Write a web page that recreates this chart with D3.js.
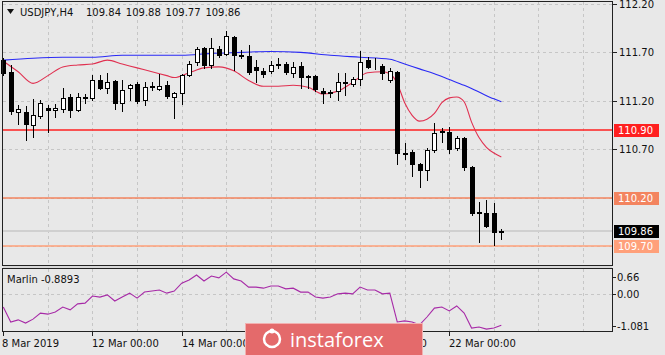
<!DOCTYPE html>
<html>
<head>
<meta charset="utf-8">
<script src="https://cdn.jsdelivr.net/npm/d3@7"></script>
<style>
  body { margin: 0; background: #e8e8e8; }
  svg { display: block; }
  text { font-family: 'DejaVu Sans', sans-serif; font-size: 10px; fill: #111; }
</style>
</head>
<body>
<svg id="chart" width="665" height="355"></svg>
<script>

// H4 candles, USDJPY, 8 Mar - 22 Mar 2019
const opens  = [111.62,111.50,111.08,111.08,110.95,111.04,111.13,111.10,111.12,111.24,111.11,111.23,111.23,111.41,111.33,111.40,111.18,111.33,111.37,111.21,
                111.34,111.32,111.36,111.24,111.28,111.47,111.60,111.75,111.57,111.73,111.68,111.86,111.66,111.66,111.55,111.51,111.51,111.57,111.58,111.49,
                111.56,111.46,111.46,111.30,111.28,111.30,111.38,111.37,111.43,111.62,111.54,111.56,111.42,111.50,110.66,110.67,110.55,110.48,110.69,110.88,
                110.88,110.71,110.82,110.52,110.05,110.04,110.04,109.84];
const highs  = [111.64,111.57,111.16,111.15,111.22,111.21,111.16,111.17,111.33,111.27,111.28,111.27,111.47,111.47,111.49,111.41,111.41,111.37,111.39,111.39,
                111.39,111.48,111.40,111.29,111.48,111.61,111.76,111.76,111.85,111.77,111.92,111.87,111.72,111.78,111.62,111.54,111.61,111.64,111.60,111.60,
                111.60,111.47,111.47,111.33,111.31,111.49,111.49,111.45,111.71,111.65,111.64,111.58,111.54,111.51,110.76,110.69,110.56,110.71,110.97,110.92,
                110.93,110.84,110.83,110.53,110.15,110.18,110.14,109.88];
const lows   = [111.47,111.06,110.96,110.79,110.83,111.02,110.88,111.03,111.08,111.03,111.09,111.18,111.21,111.32,111.28,111.12,111.09,111.21,111.18,111.16,
                111.31,111.31,111.23,111.02,111.17,111.46,111.57,111.54,111.54,111.65,111.67,111.52,111.64,111.48,111.39,111.45,111.49,111.54,111.48,111.45,
                111.33,111.33,111.30,111.18,111.24,111.21,111.26,111.35,111.36,111.54,111.53,111.43,111.39,110.55,110.60,110.42,110.31,110.38,110.67,110.77,
                110.66,110.69,110.48,110.02,109.74,109.90,109.71,109.77];
const closes = [111.49,111.09,111.12,110.96,111.05,111.18,111.10,111.13,111.23,111.10,111.24,111.24,111.42,111.33,111.39,111.18,111.31,111.36,111.20,111.34,
                111.35,111.35,111.25,111.28,111.47,111.58,111.74,111.57,111.75,111.67,111.87,111.67,111.67,111.50,111.52,111.48,111.57,111.58,111.50,111.55,
                111.45,111.45,111.32,111.28,111.29,111.39,111.39,111.43,111.60,111.55,111.54,111.49,111.51,110.66,110.65,110.55,110.49,110.69,110.87,110.89,
                110.70,110.82,110.52,110.04,110.04,109.91,109.84,109.86];

// slow moving average (blue)
const slowIdx = [0,4,8,12,16,20,24,28,32,36,40,44,48,52,54,56,58,60,62,64,66,67];
const slowMa  = [111.62,111.64,111.65,111.65,111.67,111.67,111.67,111.69,111.70,111.71,111.70,111.67,111.65,111.63,111.58,111.53,111.48,111.42,111.36,111.29,111.22,111.19];

// fast moving average (red)
const fastIdx = [0,2,4,6,8,10,12,14,16,18,20,22,23,25,27,29,31,33,35,37,39,41,43,45,47,49,51,52,53,54,55,56,57,58,59,60,61,62,63,64,65,66,67];
const fastMa  = [111.61,111.50,111.38,111.46,111.55,111.57,111.58,111.62,111.58,111.54,111.50,111.46,111.44,111.49,111.54,111.55,111.51,111.41,111.35,111.35,
                 111.36,111.34,111.27,111.30,111.39,111.49,111.50,111.48,111.38,111.18,111.05,110.99,111.01,111.07,111.18,111.23,111.24,111.19,110.98,110.82,
                 110.72,110.66,110.62];

// Marlin oscillator, one value per candle
const marlin = [-0.38,-0.80,-0.74,-0.83,-0.72,-0.55,-0.58,-0.52,-0.38,-0.46,-0.29,-0.27,-0.07,-0.10,-0.04,-0.21,-0.10,0.01,-0.13,0.04,
                0.07,0.10,0.01,0.07,0.29,0.38,0.52,0.35,0.49,0.44,0.60,0.41,0.35,0.18,0.18,0.15,0.21,0.21,0.13,0.15,
                0.04,0.04,-0.10,-0.13,-0.10,-0.01,0.01,-0.01,0.18,0.10,0.10,-0.01,0.01,-0.80,-0.77,-0.80,-0.88,-0.66,-0.41,-0.38,
                -0.49,-0.35,-0.55,-0.97,-0.94,-1.00,-0.97,-0.89];

const priceTicks = [112.20, 111.70, 111.20, 110.70];
const gridPrices = [112.20, 111.70, 111.20, 110.70, 110.20, 109.70];
const levels     = [110.90, 110.20, 109.70];
const levelNames = ['110.90', '110.20', '109.70'];
const lastPrice  = 109.86;

const marlinTicks  = [0.66, 0.00, -1.081];
const marlinLabels = ['0.66', '0.00', '-1.081'];

const dateIdx    = [0, 12, 24, 36, 48, 60];
const dateLabels = ['8 Mar 2019', '12 Mar 00:00', '14 Mar 00:00', '18 Mar 00:00', '20 Mar 00:00', '22 Mar 00:00'];

const levelColors = ['#ff2020', '#f3845f', '#ffa07a'];

const svg = d3.select('#chart');
const left = 3, right = 612;
const mainTop = 2, mainBottom = 266;
const indTop = 269, indBottom = 332;

const x = d3.scaleLinear().domain([0, 82]).range([3.3, 3.3 + 82 * 7.433]);
const y = d3.scaleLinear().domain([109.70, 112.20]).range([246, 4]);
const ym = d3.scaleLinear().domain([-1.081, 0.66]).range([indBottom, indTop + 1]);

function px(v) { return Math.round(v) + 0.5; }

svg.append('rect').attr('width', 665).attr('height', 355).attr('fill', '#e8e8e8');

// grid
const grid = svg.append('g');
d3.range(6, 82, 6).forEach(function(i) {
    grid.append('line')
        .attr('x1', px(x(i))).attr('x2', px(x(i)))
        .attr('y1', mainTop).attr('y2', mainBottom)
        .attr('stroke', '#c6c6c6').attr('stroke-dasharray', '3,3');
    grid.append('line')
        .attr('x1', px(x(i))).attr('x2', px(x(i)))
        .attr('y1', indTop).attr('y2', indBottom)
        .attr('stroke', '#c6c6c6').attr('stroke-dasharray', '3,3');
});
gridPrices.forEach(function(p) {
    grid.append('line')
        .attr('x1', left).attr('x2', right)
        .attr('y1', px(y(p))).attr('y2', px(y(p)))
        .attr('stroke', '#c6c6c6').attr('stroke-dasharray', '3,3');
});
grid.append('line')
    .attr('x1', left).attr('x2', right)
    .attr('y1', px(ym(0))).attr('y2', px(ym(0)))
    .attr('stroke', '#c6c6c6').attr('stroke-dasharray', '3,3');

// last price line + horizontal levels
svg.append('line')
    .attr('x1', left).attr('x2', right)
    .attr('y1', Math.round(y(lastPrice))).attr('y2', Math.round(y(lastPrice)))
    .attr('stroke', '#d0d0d0').attr('stroke-width', 2);

levels.forEach(function(p, k) {
    svg.append('line')
        .attr('x1', left).attr('x2', right)
        .attr('y1', Math.round(y(p))).attr('y2', Math.round(y(p)))
        .attr('stroke', levelColors[k]).attr('stroke-width', 1.6);
});

// moving averages
const maLine = d3.line().curve(d3.curveMonotoneX);
svg.append('path')
    .attr('d', maLine(slowIdx.map(function(i, k) { return [x(i), y(slowMa[k])]; })))
    .attr('fill', 'none').attr('stroke', '#2a2af5').attr('stroke-width', 1.1);
svg.append('path')
    .attr('d', maLine(fastIdx.map(function(i, k) { return [x(i), y(fastMa[k])]; })))
    .attr('fill', 'none').attr('stroke', '#e03050').attr('stroke-width', 1.1);

// candles
const candles = svg.append('g');
opens.forEach(function(o, i) {
    var c = closes[i];
    var cx = Math.round(x(i));
    candles.append('line')
        .attr('x1', cx + 0.5).attr('x2', cx + 0.5)
        .attr('y1', Math.round(y(highs[i]))).attr('y2', Math.round(y(lows[i])) + 1)
        .attr('stroke', '#000');
    var top = Math.round(y(Math.max(o, c)));
    var bot = Math.round(y(Math.min(o, c)));
    candles.append('rect')
        .attr('x', cx - 1.5).attr('width', 4)
        .attr('y', top + 0.5).attr('height', Math.max(0, bot - top))
        .attr('fill', c >= o ? '#fff' : '#000')
        .attr('stroke', '#000');
});

// panel frames
svg.append('rect')
    .attr('x', left - 0.5).attr('y', mainTop - 0.5)
    .attr('width', right - left + 1).attr('height', mainBottom - mainTop)
    .attr('fill', 'none').attr('stroke', '#222');
svg.append('rect')
    .attr('x', left - 0.5).attr('y', indTop - 0.5)
    .attr('width', right - left + 1).attr('height', indBottom - indTop)
    .attr('fill', 'none').attr('stroke', '#222');
svg.append('rect')
    .attr('x', left).attr('y', mainBottom).attr('width', right - left).attr('height', 2)
    .attr('fill', '#d8d8d8');

// marlin line
svg.append('path')
    .attr('d', d3.line()(marlin.map(function(v, i) { return [x(i), ym(v)]; })))
    .attr('fill', 'none').attr('stroke', '#a72aa7').attr('stroke-width', 1.1);

// right price axis
const axisG = svg.append('g');
priceTicks.forEach(function(p) {
    var yy = Math.round(y(p));
    axisG.append('line')
        .attr('x1', right).attr('x2', right + 5)
        .attr('y1', yy + 0.5).attr('y2', yy + 0.5)
        .attr('stroke', '#222');
    axisG.append('text')
        .attr('x', 619).attr('y', yy + 4)
        .text(p.toFixed(2));
});

const boxes = levels.concat([lastPrice]);
const boxNames = levelNames.concat(['109.86']);
const boxColors = levelColors.concat(['#000']);
boxes.forEach(function(p, k) {
    var yy = Math.round(y(p));
    axisG.append('rect')
        .attr('x', 614).attr('y', yy - 6)
        .attr('width', 45).attr('height', 13)
        .attr('fill', boxColors[k]);
    axisG.append('text')
        .attr('x', 618).attr('y', yy + 4)
        .style('fill', '#fff')
        .text(boxNames[k]);
});

marlinTicks.forEach(function(v, k) {
    var yy = Math.round(ym(v));
    yy = Math.min(Math.max(yy, 277), 326);
    axisG.append('line')
        .attr('x1', right).attr('x2', right + 4)
        .attr('y1', yy + 0.5).attr('y2', yy + 0.5)
        .attr('stroke', '#222');
    axisG.append('text')
        .attr('x', 617).attr('y', yy + 4)
        .text(marlinLabels[k]);
});

// date axis
dateIdx.forEach(function(i, k) {
    var xx = Math.round(x(i));
    svg.append('line')
        .attr('x1', xx + 0.5).attr('x2', xx + 0.5)
        .attr('y1', indBottom).attr('y2', indBottom + 4)
        .attr('stroke', '#222');
    svg.append('text')
        .attr('x', k ? xx : 2).attr('y', 347)
        .text(dateLabels[k]);
});

// header and indicator title
svg.append('path')
    .attr('d', 'M7,9 L14,9 L10.5,14 Z')
    .attr('fill', '#111');
svg.append('text').attr('x', 20).attr('y', 16).text('USDJPY,H4');
['109.84', '109.88', '109.77', '109.86'].forEach(function(t, k) {
    svg.append('text').attr('x', 86 + k * 39.8).attr('y', 16).text(t);
});
svg.append('text').attr('x', 7).attr('y', 283).text('Marlin -0.8893');

// instaforex badge
const badge = svg.append('g');
badge.append('rect')
    .attr('x', 245.5).attr('y', 323.5).attr('width', 177).attr('height', 33)
    .attr('fill', '#e46a6b').attr('stroke', '#f2b0b0');
badge.append('circle')
    .attr('cx', 272).attr('cy', 339).attr('r', 8)
    .attr('fill', 'none').attr('stroke', '#fff').attr('stroke-width', 2.5);
badge.append('circle')
    .attr('cx', 272).attr('cy', 331).attr('r', 2.5)
    .attr('fill', '#fff');
badge.append('text')
    .attr('x', 290).attr('y', 347)
    .style('font-family', "'Open Sans', sans-serif")
    .style('font-size', '20px')
    .style('fill', '#fff')
    .text('instaforex');

</script>
</body>
</html>
